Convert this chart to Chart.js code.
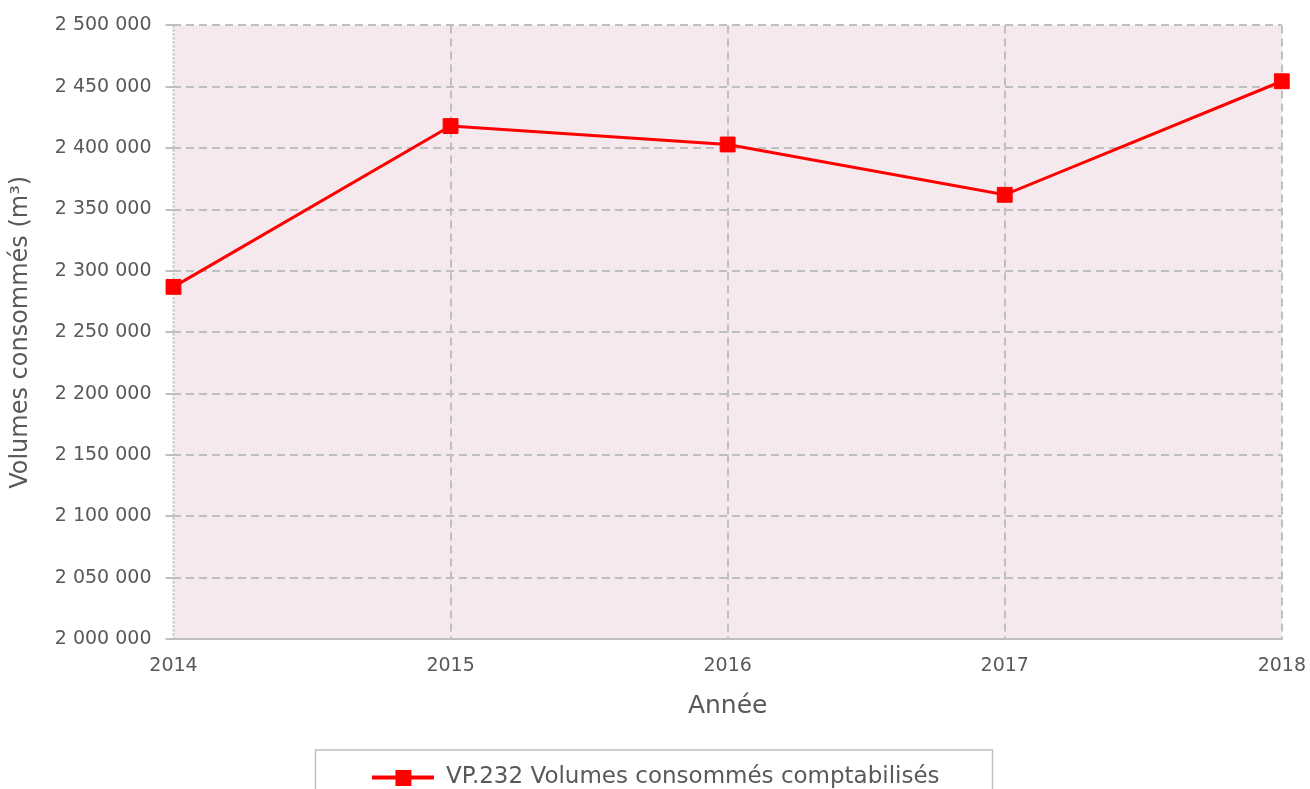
<!DOCTYPE html>
<html>
<head>
<meta charset="utf-8">
<script src="https://cdn.jsdelivr.net/npm/chart.js@4/dist/chart.umd.min.js"></script>
<style>
  html, body { margin: 0; padding: 0; background: #fff; }
  #wrap { width: 1310px; height: 789px; }
</style>
</head>
<body>
<div id="wrap"><canvas id="volChart"></canvas></div>
<script>
const years = ['2014', '2015', '2016', '2017', '2018'];
const volumes = [2287000, 2418000, 2403000, 2362000, 2454500];
const seriesLabel = 'VP.232 Volumes consommés comptabilisés';
const yTitle = 'Volumes consommés (m³)';
const xTitle = 'Année';

const textColor = '#595959';
const gridColor = '#bfbfbf';
const red = '#ff0000';
const font = 'DejaVu Sans';

// legend marker: line with a square in the middle
const marker = document.createElement('canvas');
marker.width = 62;
marker.height = 16;
const mc = marker.getContext('2d');
mc.fillStyle = red;
mc.fillRect(0, 6, 62, 4);
mc.fillRect(23, 0, 16, 16);

function frNumber(v) {
    return Math.round(v).toString().replace(/\B(?=(\d{3})+(?!\d))/g, ' ');
}

const plotDecor = {
    id: 'plotDecor',
    beforeDraw(chart) {
        const { ctx, chartArea: a } = chart;
        ctx.save();
        ctx.fillStyle = '#f5e9ee';
        ctx.fillRect(a.left, a.top, a.right - a.left, a.bottom - a.top);
        ctx.restore();
    },
    beforeDatasetsDraw(chart) {
        const { ctx, chartArea: a } = chart;
        ctx.save();
        ctx.strokeStyle = gridColor;
        ctx.lineWidth = 2;
        ctx.setLineDash([2, 2]);
        ctx.beginPath();
        ctx.moveTo(a.left, a.top);
        ctx.lineTo(a.left, a.bottom);
        ctx.stroke();
        ctx.restore();
    },
    afterDraw(chart) {
        const lg = chart.legend;
        if (!lg || !lg.legendHitBoxes.length) return;
        const hb = lg.legendHitBoxes[0];
        const { ctx } = chart;
        ctx.save();
        ctx.strokeStyle = '#bfbfbf';
        ctx.lineWidth = 1.5;
        ctx.strokeRect(315.5, hb.top - 16, 677, 80);
        ctx.restore();
    }
};

new Chart(document.getElementById('volChart'), {
    type: 'line',
    data: {
        labels: years,
        datasets: [{
            label: seriesLabel,
            data: volumes,
            borderColor: red,
            backgroundColor: red,
            borderWidth: 3,
            pointStyle: 'rect',
            pointRadius: 10.5,
            pointHoverRadius: 10.5,
            pointBorderWidth: 1,
            tension: 0,
            fill: false
        }]
    },
    options: {
        responsive: true,
        maintainAspectRatio: false,
        animation: false,
        layout: { padding: { top: 3, right: 4, left: 6, bottom: -10 } },
        plugins: {
            tooltip: { enabled: false },
            legend: {
                position: 'bottom',
                labels: {
                    usePointStyle: true,
                    pointStyle: marker,
                    pointStyleWidth: 62,
                    color: textColor,
                    font: { family: font, size: 23 },
                    padding: 4
                }
            }
        },
        scales: {
            x: {
                offset: false,
                grid: {
                    color: c => c.index === 0 ? 'rgba(0,0,0,0)' : gridColor,
                    lineWidth: 2,
                    drawTicks: true,
                    tickLength: 11,
                    tickColor: 'rgba(0,0,0,0)'
                },
                border: { display: true, color: gridColor, width: 2, dash: [8, 5] },
                ticks: {
                    color: textColor,
                    font: { family: font, size: 19 },
                    padding: 4,
                    maxRotation: 0
                },
                title: {
                    display: true,
                    text: xTitle,
                    color: textColor,
                    font: { family: font, size: 25 },
                    padding: { top: 10, bottom: 41 }
                }
            },
            y: {
                min: 2000000,
                max: 2500000,
                grid: {
                    color: gridColor,
                    lineWidth: 2,
                    tickLength: 8
                },
                border: { display: false, dash: [8, 5] },
                ticks: {
                    stepSize: 50000,
                    color: textColor,
                    font: { family: font, size: 19 },
                    padding: 14,
                    callback: v => frNumber(v)
                },
                title: {
                    display: true,
                    text: yTitle,
                    color: textColor,
                    font: { family: font, size: 24 },
                    padding: { top: 0, bottom: 6 }
                }
            }
        }
    },
    plugins: [plotDecor]
});
</script>
</body>
</html>
